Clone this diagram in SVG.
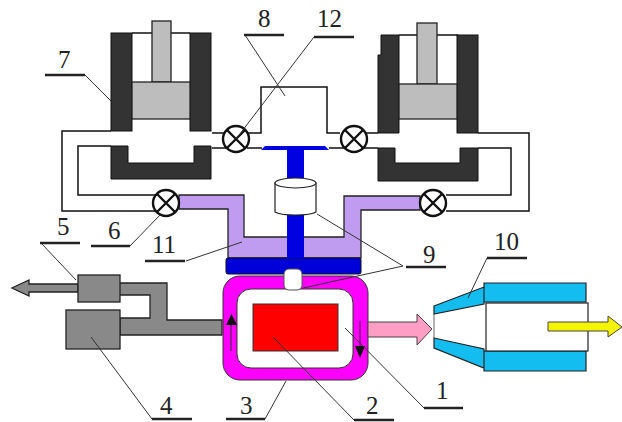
<svg xmlns="http://www.w3.org/2000/svg" width="622" height="422" viewBox="0 0 622 422">
<style>
.k{fill:#333;stroke:#111;stroke-width:1}
.g{fill:#bdbdbd;stroke:#222;stroke-width:1.3}
.p{fill:none;stroke:#111;stroke-width:1.5}
.l{fill:none;stroke:#333;stroke-width:1}
.u{fill:none;stroke:#222;stroke-width:2.4}
.m{fill:#898989;stroke:#222;stroke-width:1.3}
.v{fill:#fff;stroke:#111;stroke-width:2.4}
.c{fill:#14bdf0;stroke:#222;stroke-width:1.2}
text{font-family:"Liberation Serif",serif;font-size:25px;fill:#222}
</style>
<defs><g id="valve"><circle r="13" class="v"/><path d="M-9-9 9 9M-9 9 9-9" class="v" fill="none"/></g></defs>
<g id="cylinder-left">
<rect x="111" y="33" width="21" height="98" class="k"/><rect x="190" y="33" width="21" height="98" class="k"/>
<path d="M132 33H190" class="p"/>
<rect x="152" y="21" width="19" height="61" class="g"/><rect x="132" y="82" width="58" height="37" class="g"/>
<path d="M111 146h17v17h66v-17h17v33H111z" class="k"/>
</g>
<g id="cylinder-right">
<path d="M381 35h18v98h-21V55h3z" class="k"/><rect x="457" y="35" width="21" height="98" class="k"/>
<path d="M399 35H458" class="p"/>
<rect x="417" y="23" width="20" height="61" class="g"/><rect x="399" y="84" width="58" height="35" class="g"/>
<path d="M378 148h17v15h65v-15h18v33H378z" class="k"/>
</g>
<g id="pipes">
<path d="M111 131H62V211H160M111 146H78V195H160M212 133H228M212 148H228M247 133H261V87H327V133H340M247 148H262M329 148H345M362 133H378M362 148H378M478 133H529V211H446M478 148H511V195H446" class="p"/>
</g>
<g id="node-11">
<path d="M179 195H244V237H344V196H420V210H361V258H228V209H179z" fill="#bf9cf0" stroke="#222" stroke-width="1.3"/>
</g>
<g id="node-9">
<rect x="226" y="258" width="135" height="16" rx="2" fill="#0000d8" stroke="#111"/>
<rect x="287" y="150" width="17" height="108" fill="#0000e0"/>
<path d="M265 146H325L329 150H261z" fill="#0000e0"/>
<path d="M275 183v29c6 4 35 4 41 0v-29z" fill="#fff" stroke="#222" stroke-width="1.2"/>
<ellipse cx="295.500" cy="183" rx="20.500" ry="5" fill="#fff" stroke="#222" stroke-width="1.2"/>
</g>
<g id="valves"><use href="#valve" x="236" y="139"/><use href="#valve" x="354" y="139"/><use href="#valve" x="166" y="203"/><use href="#valve" x="433" y="203"/></g>
<g id="node-5-4">
<path d="M119 283H167V320H222V335H120V318H150V295H119z" class="m"/>
<path d="M78 284H29V280L12 288 29 296V292H78z" class="m"/>
<rect x="78" y="275" width="42" height="27" class="m"/>
<rect x="66" y="310" width="54" height="39" class="m"/>
</g>
<g id="node-3">
<rect x="223" y="276" width="145" height="104" rx="17" fill="#f0f" stroke="#333"/>
<rect x="237" y="289" width="116" height="79" rx="14" fill="#fff" stroke="#333"/>
<rect x="284" y="269" width="18" height="21" rx="5" fill="#fff" stroke="#555"/>
<path d="M231 351V322" stroke="#333" fill="none"/><path d="M226 325h11l-5.500-11z" fill="#111"/>
<path d="M360 321V348" stroke="#333" fill="none"/><path d="M355 346h10l-5 12z" fill="#111"/>
</g>
<g id="node-2"><rect x="253" y="304" width="85" height="47" fill="#f00" stroke="#333"/></g>
<g id="arrow-pink"><path d="M368 322H417V314L432 329 417 345V337H368z" fill="#ff9ec4" stroke="#444"/></g>
<g id="node-10">
<path d="M484 283H586V302H484zM484 351H586V371H484zM434 306 484 287V304L434 314zM434 338 484 349V368L434 348z" class="c"/>
<path d="M434 314V338" fill="none" stroke="#666" stroke-width="1"/>
<rect x="486" y="303" width="102" height="48" fill="#fff" stroke="#222" stroke-width="1.2"/>
<path d="M548 322H608V316L622 327 608 337V331H548z" fill="#f4f400" stroke="#444"/>
</g>
<g id="leaders">
<path d="M85 75 111 101M245 35 285 96M314 37 236 139M41 243 76 280M130 246 160 215M186 261 242 242M152 419 91 337M265 419 286 381M354 420 273 337M424 408 345 328M403 266 317 214M403 266 303 288M487 258 468 298" class="l"/>
</g>
<g id="labels">
<path d="M45 75H85M244 35H284M314 37H354M40 243H80M91 246H130M145 261H185M152 419H192M226 419H265M354 420H394M424 408H463M406 267H446M487 258H527" class="u"/>
<text x="58" y="68">7</text><text x="258" y="27">8</text><text x="317" y="27">12</text><text x="57" y="235">5</text><text x="108" y="239">6</text><text x="152" y="253">11</text><text x="160" y="414">4</text><text x="240" y="414">3</text><text x="366" y="414">2</text><text x="436" y="399">1</text><text x="423" y="263">9</text><text x="494" y="250">10</text>
</g>
</svg>
